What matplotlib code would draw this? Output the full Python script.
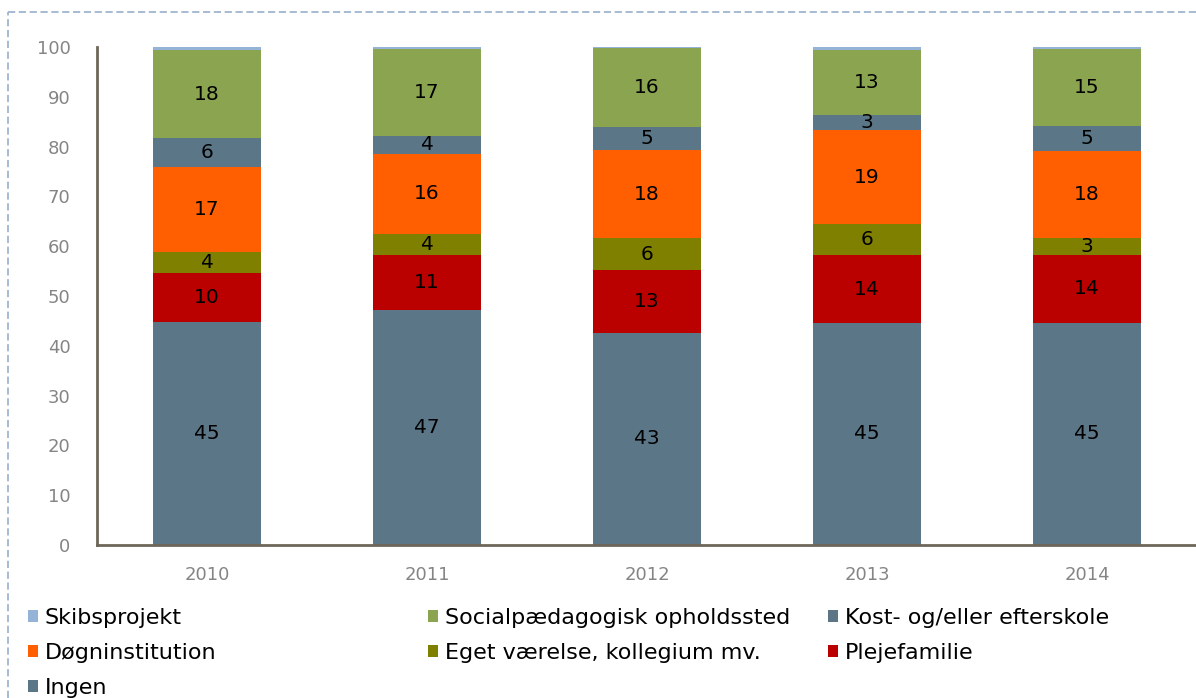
import matplotlib
matplotlib.use("Agg")
import matplotlib.pyplot as plt
import numpy as np
from matplotlib.patches import Patch
from matplotlib.lines import Line2D

years = ['2010', '2011', '2012', '2013', '2014']

# share of young people (%), stacked bottom -> top
ingen = [44.7, 47.2, 42.6, 44.6, 44.6]
plejefamilie = [9.9, 11.0, 12.6, 13.6, 13.7]
eget_vaerelse = [4.3, 4.2, 6.4, 6.2, 3.3]
doegninstitution = [17.1, 16.2, 17.7, 18.9, 17.6]
kostskole = [5.7, 3.6, 4.6, 3.0, 4.9]
socialpaed = [17.6, 17.4, 15.8, 13.0, 15.4]
skibsprojekt = [0.7, 0.4, 0.3, 0.7, 0.5]

series = [
    ('Ingen', ingen, '#5B7687', True),
    ('Plejefamilie', plejefamilie, '#BB0000', True),
    ('Eget værelse, kollegium mv.', eget_vaerelse, '#7F7F00', True),
    ('Døgninstitution', doegninstitution, '#FF5F00', True),
    ('Kost- og/eller efterskole', kostskole, '#5B7687', True),
    ('Socialpædagogisk opholdssted', socialpaed, '#8BA44F', True),
    ('Skibsprojekt', skibsprojekt, '#95B3D7', False),
]

fig = plt.figure(figsize=(11.96, 6.98), dpi=100)
ax = fig.add_axes([97/1196, 153/698, 1100/1196, 498/698])

x = np.arange(len(years))
bottom = np.zeros(len(years))
colors = {}
for name, vals, col, lab in series:
    vals = np.array(vals)
    bars = ax.bar(x, vals, width=0.49, bottom=bottom, color=col, edgecolor='none')
    if lab:
        ax.bar_label(bars, labels=['%.0f' % v for v in vals], label_type='center',
                     fontsize=14.5, color='black')
    bottom += vals
    colors[name] = col

ax.set_xlim(-0.5, 4.5)
ax.set_ylim(0, 100)
ax.set_yticks(np.arange(0, 101, 10))
ax.set_xticks(x)
ax.set_xticklabels(years)
ax.tick_params(axis='both', length=0, labelsize=13, labelcolor='#858585')
ax.tick_params(axis='y', pad=19)
ax.tick_params(axis='x', pad=15)
for s in ['top', 'right']:
    ax.spines[s].set_visible(False)
for s in ['left', 'bottom']:
    ax.spines[s].set_color('#6e6658')
    ax.spines[s].set_linewidth(2)

# legend, three columns placed by hand like the original
cols = [
    (28, ['Skibsprojekt', 'Døgninstitution', 'Ingen']),
    (428, ['Socialpædagogisk opholdssted', 'Eget værelse, kollegium mv.']),
    (828, ['Kost- og/eller efterskole', 'Plejefamilie']),
]
for xpos, names in cols:
    handles = [Patch(facecolor=colors[n], edgecolor='none') for n in names]
    fig.legend(handles, names, loc='upper left', bbox_to_anchor=(xpos/1196, 1 - 608/698),
               frameon=False, borderpad=0, borderaxespad=0, handlelength=0.45,
               handleheight=0.45, handletextpad=0.3, labelspacing=0.68, fontsize=16)

# dashed frame of the chart area
fig.add_artist(Line2D([8/1196, 1], [1 - 12/698, 1 - 12/698], color='#9fb5cf',
                      lw=1.3, ls=(0, (4, 2)), transform=fig.transFigure))
fig.add_artist(Line2D([8/1196, 8/1196], [0, 1 - 12/698], color='#9fb5cf',
                      lw=1.3, ls=(0, (4, 2)), transform=fig.transFigure))

fig.savefig('out.png', dpi=100)
